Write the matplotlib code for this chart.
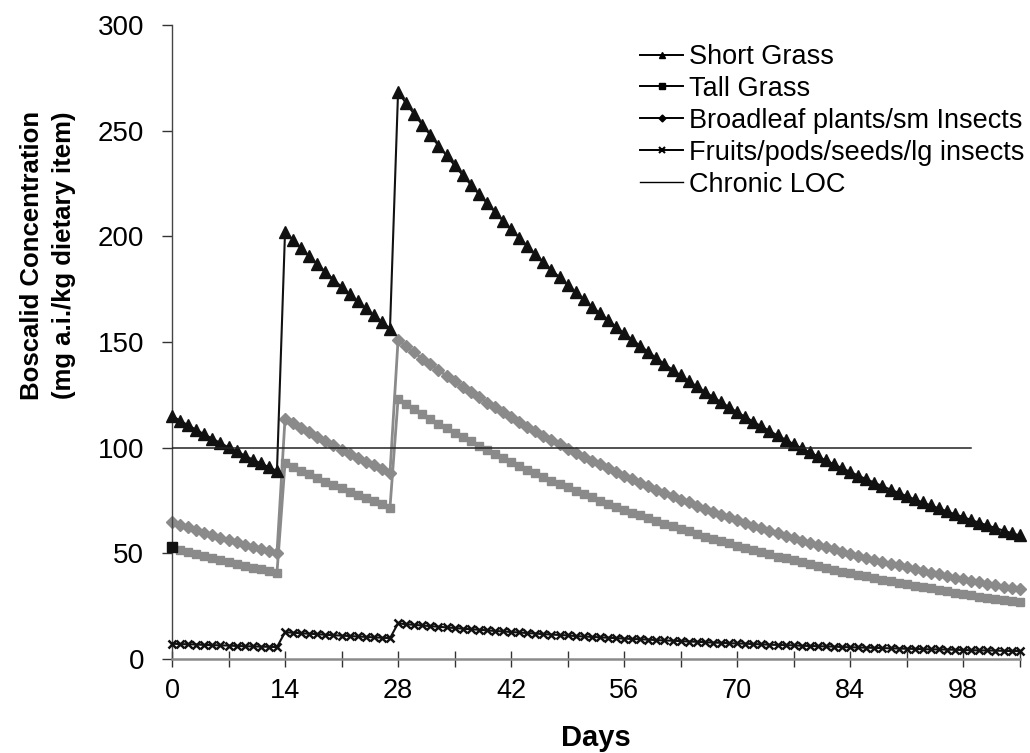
import matplotlib
matplotlib.use("Agg")
import matplotlib.pyplot as plt
from matplotlib.lines import Line2D
from matplotlib.ticker import MultipleLocator

plt.rcParams['font.family'] = ['Liberation Sans', 'DejaVu Sans']

days = list(range(0, 106))

short_grass = [
    115.0, 112.7, 110.5, 108.4, 106.2, 104.2, 102.1, 100.1, 98.2, 96.2,
    94.3, 92.5, 90.7, 88.9, 202.2, 198.2, 194.3, 190.5, 186.8, 183.1,
    179.5, 176.0, 172.5, 169.1, 165.8, 162.6, 159.4, 156.3, 268.2, 262.9,
    257.8, 252.7, 247.8, 242.9, 238.2, 233.5, 228.9, 224.4, 220.0, 215.7,
    211.5, 207.3, 203.3, 199.3, 195.4, 191.5, 187.8, 184.1, 180.5, 176.9,
    173.5, 170.1, 166.7, 163.5, 160.3, 157.1, 154.0, 151.0, 148.1, 145.2,
    142.3, 139.5, 136.8, 134.1, 131.5, 128.9, 126.4, 123.9, 121.5, 119.1,
    116.7, 114.5, 112.2, 110.0, 107.9, 105.7, 103.7, 101.6, 99.6, 97.7,
    95.8, 93.9, 92.0, 90.2, 88.5, 86.7, 85.0, 83.4, 81.7, 80.1,
    78.6, 77.0, 75.5, 74.0, 72.6, 71.2, 69.8, 68.4, 67.1, 65.7,
    64.4, 63.2, 61.9, 60.7, 59.5, 58.4,
]

tall_grass = [
    52.7, 51.7, 50.6, 49.7, 48.7, 47.8, 46.8, 45.9, 45.0, 44.1,
    43.2, 42.4, 41.6, 40.7, 92.7, 90.8, 89.1, 87.3, 85.6, 83.9,
    82.3, 80.7, 79.1, 77.5, 76.0, 74.5, 73.1, 71.6, 122.9, 120.5,
    118.2, 115.8, 113.6, 111.3, 109.2, 107.0, 104.9, 102.9, 100.8, 98.9,
    96.9, 95.0, 93.2, 91.3, 89.6, 87.8, 86.1, 84.4, 82.7, 81.1,
    79.5, 78.0, 76.4, 74.9, 73.5, 72.0, 70.6, 69.2, 67.9, 66.5,
    65.2, 63.9, 62.7, 61.5, 60.3, 59.1, 57.9, 56.8, 55.7, 54.6,
    53.5, 52.5, 51.4, 50.4, 49.5, 48.4, 47.5, 46.6, 45.7, 44.8,
    43.9, 43.0, 42.2, 41.3, 40.6, 39.7, 39.0, 38.2, 37.4, 36.7,
    36.0, 35.3, 34.6, 33.9, 33.3, 32.6, 32.0, 31.4, 30.8, 30.1,
    29.5, 29.0, 28.4, 27.8, 27.3, 26.8,
]

broadleaf = [
    64.7, 63.4, 62.2, 61.0, 59.7, 58.6, 57.4, 56.3, 55.2, 54.1,
    53.0, 52.0, 51.0, 50.0, 113.7, 111.5, 109.3, 107.2, 105.1, 103.0,
    101.0, 99.0, 97.0, 95.1, 93.3, 91.5, 89.7, 87.9, 150.9, 147.9,
    145.0, 142.1, 139.4, 136.6, 134.0, 131.3, 128.8, 126.2, 123.8, 121.3,
    119.0, 116.6, 114.4, 112.1, 109.9, 107.7, 105.6, 103.6, 101.5, 99.5,
    97.6, 95.7, 93.8, 92.0, 90.2, 88.4, 86.6, 84.9, 83.3, 81.7,
    80.0, 78.5, 77.0, 75.4, 74.0, 72.5, 71.1, 69.7, 68.3, 67.0,
    65.6, 64.4, 63.1, 61.9, 60.7, 59.5, 58.3, 57.2, 56.0, 55.0,
    53.9, 52.8, 51.8, 50.7, 49.8, 48.8, 47.8, 46.9, 46.0, 45.1,
    44.2, 43.3, 42.5, 41.6, 40.8, 40.1, 39.3, 38.5, 37.7, 37.0,
    36.2, 35.6, 34.8, 34.1, 33.5, 32.9,
]

fruits = [
    7.2, 7.0, 6.9, 6.8, 6.6, 6.5, 6.4, 6.3, 6.1, 6.0,
    5.9, 5.8, 5.7, 5.6, 12.6, 12.4, 12.1, 11.9, 11.7, 11.4,
    11.2, 11.0, 10.8, 10.6, 10.4, 10.2, 10.0, 9.8, 16.8, 16.4,
    16.1, 15.8, 15.5, 15.2, 14.9, 14.6, 14.3, 14.0, 13.8, 13.5,
    13.2, 13.0, 12.7, 12.5, 12.2, 12.0, 11.7, 11.5, 11.3, 11.1,
    10.8, 10.6, 10.4, 10.2, 10.0, 9.8, 9.6, 9.4, 9.3, 9.1,
    8.9, 8.7, 8.6, 8.4, 8.2, 8.1, 7.9, 7.7, 7.6, 7.4,
    7.3, 7.2, 7.0, 6.9, 6.7, 6.6, 6.5, 6.4, 6.2, 6.1,
    6.0, 5.9, 5.8, 5.6, 5.5, 5.4, 5.3, 5.2, 5.1, 5.0,
    4.9, 4.8, 4.7, 4.6, 4.5, 4.5, 4.4, 4.3, 4.2, 4.1,
    4.0, 4.0, 3.9, 3.8, 3.7, 3.7,
]

loc_days = [0, 99]
loc_values = [100, 100]

series_labels = ["Short Grass", "Tall Grass", "Broadleaf plants/sm Insects",
                 "Fruits/pods/seeds/lg insects", "Chronic LOC"]
x_ticks = [0, 14, 28, 42, 56, 70, 84, 98]
y_ticks = [0, 50, 100, 150, 200, 250, 300]

GRAY = "#8a8a8a"
DARK = "#111111"

fig = plt.figure(figsize=(10.30, 7.53), dpi=100)
ax = fig.add_axes([0.167, 0.125, 0.823, 0.842])

ax.plot(days, tall_grass, color=GRAY, lw=2.0, marker='s', ms=5.5, mec=GRAY, mfc=GRAY, clip_on=False, zorder=2)
ax.plot(days, broadleaf, color=GRAY, lw=2.0, marker='D', ms=6, mec=GRAY, mfc=GRAY, clip_on=False, zorder=2)
ax.plot(days[:1], tall_grass[:1], ls='none', marker='s', ms=6.5, color=DARK, clip_on=False, zorder=3)
ax.plot(days, short_grass, color=DARK, lw=1.5, marker='^', ms=8, mec=DARK, mfc=DARK, clip_on=False, zorder=4)
ax.plot(days, fruits, color=DARK, lw=1.5, marker='x', ms=6, mew=1.8, mec=DARK, clip_on=False, zorder=4)
ax.plot(loc_days, loc_values, color="#222222", lw=1.1, zorder=5)

ax.set_xlim(0, 105)
ax.set_ylim(0, 300)
ax.set_xticks(x_ticks)
ax.xaxis.set_minor_locator(MultipleLocator(7))
ax.set_yticks(y_ticks)

for s in ['top', 'right']:
    ax.spines[s].set_visible(False)
ax.spines['bottom'].set_color('#8a8a8a')
ax.spines['bottom'].set_linewidth(1.8)
ax.spines['left'].set_color('#444444')
ax.spines['left'].set_linewidth(1.0)

ax.tick_params(axis='x', which='both', direction='inout', length=12, width=1.0, color='#333333',
               labelsize=19.5, pad=8)
ax.tick_params(axis='y', which='both', direction='out', length=7, width=1.0, color='#333333',
               labelsize=20, pad=13)

ax.set_xlabel("Days", fontsize=21, fontweight='bold', labelpad=14)
ax.set_ylabel("Boscalid Concentration\n(mg a.i./kg dietary item)", fontsize=18.5, fontweight='bold',
              linespacing=1.45)
ax.yaxis.set_label_coords(-0.113, 0.637)

handles = [
    Line2D([], [], color='black', lw=1.4, marker='^', ms=5),
    Line2D([], [], color='black', lw=1.4, marker='s', ms=4.5),
    Line2D([], [], color='black', lw=1.4, marker='D', ms=3.5),
    Line2D([], [], color='black', lw=1.4, marker='x', ms=5, mew=1.5),
    Line2D([], [], color='black', lw=1.0),
]
fig.legend(handles, series_labels, loc='upper left', bbox_to_anchor=(640 / 1030, 1 - 44 / 753),
           frameon=False, fontsize=19.5, handlelength=1.6, handletextpad=0.2, labelspacing=0.22,
           borderpad=0, borderaxespad=0)

fig.savefig("out.png", dpi=100)
